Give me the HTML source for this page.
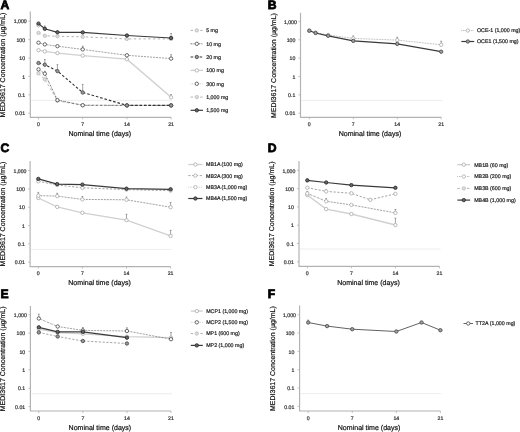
<!DOCTYPE html>
<html><head><meta charset="utf-8"><style>
html,body{margin:0;padding:0;background:#fff;}
svg{display:block;font-family:"Liberation Sans", sans-serif;filter:blur(0.4px);text-rendering:geometricPrecision;}
</style></head><body>
<svg width="520" height="432" viewBox="0 0 520 432">
<rect width="520" height="432" fill="#fff"/>
<text x="0.5" y="8.7" font-size="12.2" fill="#000" text-anchor="start" font-weight="bold" stroke="#000" stroke-width="0.75">A</text>
<line x1="31.3" y1="100.34" x2="172.1" y2="100.34" stroke="#e9e9e9" stroke-width="0.8"/>
<path d="M30.3,11.6V117.4H171.1" fill="none" stroke="#b2b2b2" stroke-width="1.15"/>
<line x1="28.3" y1="21.2" x2="30.3" y2="21.2" stroke="#b2b2b2" stroke-width="0.8"/>
<text x="26.7" y="23.4" font-size="5.2" fill="#333" text-anchor="end" font-weight="normal" stroke="#333" stroke-width="0.2">1,000</text>
<line x1="28.3" y1="39.6" x2="30.3" y2="39.6" stroke="#b2b2b2" stroke-width="0.8"/>
<text x="25.1" y="41.8" font-size="5.2" fill="#333" text-anchor="end" font-weight="normal" stroke="#333" stroke-width="0.2">100</text>
<line x1="28.3" y1="58" x2="30.3" y2="58" stroke="#b2b2b2" stroke-width="0.8"/>
<text x="25.1" y="60.2" font-size="5.2" fill="#333" text-anchor="end" font-weight="normal" stroke="#333" stroke-width="0.2">10</text>
<line x1="28.3" y1="76.4" x2="30.3" y2="76.4" stroke="#b2b2b2" stroke-width="0.8"/>
<text x="25.1" y="78.6" font-size="5.2" fill="#333" text-anchor="end" font-weight="normal" stroke="#333" stroke-width="0.2">1</text>
<line x1="28.3" y1="94.8" x2="30.3" y2="94.8" stroke="#b2b2b2" stroke-width="0.8"/>
<text x="25.1" y="97" font-size="5.2" fill="#333" text-anchor="end" font-weight="normal" stroke="#333" stroke-width="0.2">0.1</text>
<line x1="28.3" y1="113.2" x2="30.3" y2="113.2" stroke="#b2b2b2" stroke-width="0.8"/>
<text x="25.1" y="115.4" font-size="5.2" fill="#333" text-anchor="end" font-weight="normal" stroke="#333" stroke-width="0.2">0.01</text>
<line x1="38.5" y1="117.4" x2="38.5" y2="119.4" stroke="#b2b2b2" stroke-width="0.8"/>
<text x="38.5" y="126.2" font-size="5.2" fill="#333" text-anchor="middle" font-weight="normal" stroke="#333" stroke-width="0.2">0</text>
<line x1="82.7" y1="117.4" x2="82.7" y2="119.4" stroke="#b2b2b2" stroke-width="0.8"/>
<text x="82.7" y="126.2" font-size="5.2" fill="#333" text-anchor="middle" font-weight="normal" stroke="#333" stroke-width="0.2">7</text>
<line x1="126.9" y1="117.4" x2="126.9" y2="119.4" stroke="#b2b2b2" stroke-width="0.8"/>
<text x="126.9" y="126.2" font-size="5.2" fill="#333" text-anchor="middle" font-weight="normal" stroke="#333" stroke-width="0.2">14</text>
<line x1="171.1" y1="117.4" x2="171.1" y2="119.4" stroke="#b2b2b2" stroke-width="0.8"/>
<text x="171.1" y="126.2" font-size="5.2" fill="#333" text-anchor="middle" font-weight="normal" stroke="#333" stroke-width="0.2">21</text>
<text x="99.8" y="136" font-size="7.05" fill="#111" text-anchor="middle" font-weight="normal" stroke="#111" stroke-width="0.2">Nominal time (days)</text>
<text x="0" y="0" font-size="7.0" fill="#111" stroke="#111" stroke-width="0.2" text-anchor="middle" transform="translate(5.1,65) rotate(-90)">MEDI3617 Concentration (µg/mL)</text>
<text x="267.8" y="8.7" font-size="12.2" fill="#000" text-anchor="start" font-weight="bold" stroke="#000" stroke-width="0.75">B</text>
<line x1="301.5" y1="100.37" x2="442.2" y2="100.37" stroke="#e9e9e9" stroke-width="0.8"/>
<path d="M300.5,12.7V117.3H441.2" fill="none" stroke="#b2b2b2" stroke-width="1.15"/>
<line x1="298.5" y1="21.4" x2="300.5" y2="21.4" stroke="#b2b2b2" stroke-width="0.8"/>
<text x="296.9" y="23.6" font-size="5.2" fill="#333" text-anchor="end" font-weight="normal" stroke="#333" stroke-width="0.2">1,000</text>
<line x1="298.5" y1="39.76" x2="300.5" y2="39.76" stroke="#b2b2b2" stroke-width="0.8"/>
<text x="295.3" y="41.96" font-size="5.2" fill="#333" text-anchor="end" font-weight="normal" stroke="#333" stroke-width="0.2">100</text>
<line x1="298.5" y1="58.12" x2="300.5" y2="58.12" stroke="#b2b2b2" stroke-width="0.8"/>
<text x="295.3" y="60.32" font-size="5.2" fill="#333" text-anchor="end" font-weight="normal" stroke="#333" stroke-width="0.2">10</text>
<line x1="298.5" y1="76.48" x2="300.5" y2="76.48" stroke="#b2b2b2" stroke-width="0.8"/>
<text x="295.3" y="78.68" font-size="5.2" fill="#333" text-anchor="end" font-weight="normal" stroke="#333" stroke-width="0.2">1</text>
<line x1="298.5" y1="94.84" x2="300.5" y2="94.84" stroke="#b2b2b2" stroke-width="0.8"/>
<text x="295.3" y="97.04" font-size="5.2" fill="#333" text-anchor="end" font-weight="normal" stroke="#333" stroke-width="0.2">0.1</text>
<line x1="298.5" y1="113.2" x2="300.5" y2="113.2" stroke="#b2b2b2" stroke-width="0.8"/>
<text x="295.3" y="115.4" font-size="5.2" fill="#333" text-anchor="end" font-weight="normal" stroke="#333" stroke-width="0.2">0.01</text>
<line x1="309.3" y1="117.3" x2="309.3" y2="119.3" stroke="#b2b2b2" stroke-width="0.8"/>
<text x="309.3" y="126.1" font-size="5.2" fill="#333" text-anchor="middle" font-weight="normal" stroke="#333" stroke-width="0.2">0</text>
<line x1="353.27" y1="117.3" x2="353.27" y2="119.3" stroke="#b2b2b2" stroke-width="0.8"/>
<text x="353.27" y="126.1" font-size="5.2" fill="#333" text-anchor="middle" font-weight="normal" stroke="#333" stroke-width="0.2">7</text>
<line x1="397.23" y1="117.3" x2="397.23" y2="119.3" stroke="#b2b2b2" stroke-width="0.8"/>
<text x="397.23" y="126.1" font-size="5.2" fill="#333" text-anchor="middle" font-weight="normal" stroke="#333" stroke-width="0.2">14</text>
<line x1="441.2" y1="117.3" x2="441.2" y2="119.3" stroke="#b2b2b2" stroke-width="0.8"/>
<text x="441.2" y="126.1" font-size="5.2" fill="#333" text-anchor="middle" font-weight="normal" stroke="#333" stroke-width="0.2">21</text>
<text x="370" y="135.9" font-size="7.05" fill="#111" text-anchor="middle" font-weight="normal" stroke="#111" stroke-width="0.2">Nominal time (days)</text>
<text x="0" y="0" font-size="7.0" fill="#111" stroke="#111" stroke-width="0.2" text-anchor="middle" transform="translate(275.8,65.5) rotate(-90)">MEDI3617 Concentration (µg/mL)</text>
<text x="0.5" y="152.1" font-size="12.2" fill="#000" text-anchor="start" font-weight="bold" stroke="#000" stroke-width="0.75">C</text>
<line x1="31.1" y1="249.39" x2="171.6" y2="249.39" stroke="#e9e9e9" stroke-width="0.8"/>
<path d="M30.1,161V266.6H170.6" fill="none" stroke="#b2b2b2" stroke-width="1.15"/>
<line x1="28.1" y1="170.6" x2="30.1" y2="170.6" stroke="#b2b2b2" stroke-width="0.8"/>
<text x="26.5" y="172.8" font-size="5.2" fill="#333" text-anchor="end" font-weight="normal" stroke="#333" stroke-width="0.2">1,000</text>
<line x1="28.1" y1="188.92" x2="30.1" y2="188.92" stroke="#b2b2b2" stroke-width="0.8"/>
<text x="24.9" y="191.12" font-size="5.2" fill="#333" text-anchor="end" font-weight="normal" stroke="#333" stroke-width="0.2">100</text>
<line x1="28.1" y1="207.24" x2="30.1" y2="207.24" stroke="#b2b2b2" stroke-width="0.8"/>
<text x="24.9" y="209.44" font-size="5.2" fill="#333" text-anchor="end" font-weight="normal" stroke="#333" stroke-width="0.2">10</text>
<line x1="28.1" y1="225.56" x2="30.1" y2="225.56" stroke="#b2b2b2" stroke-width="0.8"/>
<text x="24.9" y="227.76" font-size="5.2" fill="#333" text-anchor="end" font-weight="normal" stroke="#333" stroke-width="0.2">1</text>
<line x1="28.1" y1="243.88" x2="30.1" y2="243.88" stroke="#b2b2b2" stroke-width="0.8"/>
<text x="24.9" y="246.08" font-size="5.2" fill="#333" text-anchor="end" font-weight="normal" stroke="#333" stroke-width="0.2">0.1</text>
<line x1="28.1" y1="262.2" x2="30.1" y2="262.2" stroke="#b2b2b2" stroke-width="0.8"/>
<text x="24.9" y="264.4" font-size="5.2" fill="#333" text-anchor="end" font-weight="normal" stroke="#333" stroke-width="0.2">0.01</text>
<line x1="38.3" y1="266.6" x2="38.3" y2="268.6" stroke="#b2b2b2" stroke-width="0.8"/>
<text x="38.3" y="275.4" font-size="5.2" fill="#333" text-anchor="middle" font-weight="normal" stroke="#333" stroke-width="0.2">0</text>
<line x1="82.4" y1="266.6" x2="82.4" y2="268.6" stroke="#b2b2b2" stroke-width="0.8"/>
<text x="82.4" y="275.4" font-size="5.2" fill="#333" text-anchor="middle" font-weight="normal" stroke="#333" stroke-width="0.2">7</text>
<line x1="126.5" y1="266.6" x2="126.5" y2="268.6" stroke="#b2b2b2" stroke-width="0.8"/>
<text x="126.5" y="275.4" font-size="5.2" fill="#333" text-anchor="middle" font-weight="normal" stroke="#333" stroke-width="0.2">14</text>
<line x1="170.6" y1="266.6" x2="170.6" y2="268.6" stroke="#b2b2b2" stroke-width="0.8"/>
<text x="170.6" y="275.4" font-size="5.2" fill="#333" text-anchor="middle" font-weight="normal" stroke="#333" stroke-width="0.2">21</text>
<text x="99.6" y="285.2" font-size="7.05" fill="#111" text-anchor="middle" font-weight="normal" stroke="#111" stroke-width="0.2">Nominal time (days)</text>
<text x="0" y="0" font-size="7.0" fill="#111" stroke="#111" stroke-width="0.2" text-anchor="middle" transform="translate(5,214) rotate(-90)">MEDI3617 Concentration (µg/mL)</text>
<text x="267.8" y="152.4" font-size="12.2" fill="#000" text-anchor="start" font-weight="bold" stroke="#000" stroke-width="0.75">D</text>
<line x1="300" y1="249.01" x2="440.5" y2="249.01" stroke="#e9e9e9" stroke-width="0.8"/>
<path d="M299,161V266.4H439.5" fill="none" stroke="#b2b2b2" stroke-width="1.15"/>
<line x1="297" y1="170.3" x2="299" y2="170.3" stroke="#b2b2b2" stroke-width="0.8"/>
<text x="295.4" y="172.5" font-size="5.2" fill="#333" text-anchor="end" font-weight="normal" stroke="#333" stroke-width="0.2">1,000</text>
<line x1="297" y1="188.6" x2="299" y2="188.6" stroke="#b2b2b2" stroke-width="0.8"/>
<text x="293.8" y="190.8" font-size="5.2" fill="#333" text-anchor="end" font-weight="normal" stroke="#333" stroke-width="0.2">100</text>
<line x1="297" y1="206.9" x2="299" y2="206.9" stroke="#b2b2b2" stroke-width="0.8"/>
<text x="293.8" y="209.1" font-size="5.2" fill="#333" text-anchor="end" font-weight="normal" stroke="#333" stroke-width="0.2">10</text>
<line x1="297" y1="225.2" x2="299" y2="225.2" stroke="#b2b2b2" stroke-width="0.8"/>
<text x="293.8" y="227.4" font-size="5.2" fill="#333" text-anchor="end" font-weight="normal" stroke="#333" stroke-width="0.2">1</text>
<line x1="297" y1="243.5" x2="299" y2="243.5" stroke="#b2b2b2" stroke-width="0.8"/>
<text x="293.8" y="245.7" font-size="5.2" fill="#333" text-anchor="end" font-weight="normal" stroke="#333" stroke-width="0.2">0.1</text>
<line x1="297" y1="261.8" x2="299" y2="261.8" stroke="#b2b2b2" stroke-width="0.8"/>
<text x="293.8" y="264" font-size="5.2" fill="#333" text-anchor="end" font-weight="normal" stroke="#333" stroke-width="0.2">0.01</text>
<line x1="307.3" y1="266.4" x2="307.3" y2="268.4" stroke="#b2b2b2" stroke-width="0.8"/>
<text x="307.3" y="275.2" font-size="5.2" fill="#333" text-anchor="middle" font-weight="normal" stroke="#333" stroke-width="0.2">0</text>
<line x1="351.37" y1="266.4" x2="351.37" y2="268.4" stroke="#b2b2b2" stroke-width="0.8"/>
<text x="351.37" y="275.2" font-size="5.2" fill="#333" text-anchor="middle" font-weight="normal" stroke="#333" stroke-width="0.2">7</text>
<line x1="395.43" y1="266.4" x2="395.43" y2="268.4" stroke="#b2b2b2" stroke-width="0.8"/>
<text x="395.43" y="275.2" font-size="5.2" fill="#333" text-anchor="middle" font-weight="normal" stroke="#333" stroke-width="0.2">14</text>
<line x1="439.5" y1="266.4" x2="439.5" y2="268.4" stroke="#b2b2b2" stroke-width="0.8"/>
<text x="439.5" y="275.2" font-size="5.2" fill="#333" text-anchor="middle" font-weight="normal" stroke="#333" stroke-width="0.2">21</text>
<text x="368.5" y="285" font-size="7.05" fill="#111" text-anchor="middle" font-weight="normal" stroke="#111" stroke-width="0.2">Nominal time (days)</text>
<text x="0" y="0" font-size="7.0" fill="#111" stroke="#111" stroke-width="0.2" text-anchor="middle" transform="translate(274,213.9) rotate(-90)">MEDI3617 Concentration (µg/mL)</text>
<text x="0.5" y="298.3" font-size="12.2" fill="#000" text-anchor="start" font-weight="bold" stroke="#000" stroke-width="0.75">E</text>
<line x1="31.4" y1="393.75" x2="172" y2="393.75" stroke="#e9e9e9" stroke-width="0.8"/>
<path d="M30.4,306V411H171" fill="none" stroke="#b2b2b2" stroke-width="1.15"/>
<line x1="28.4" y1="314.7" x2="30.4" y2="314.7" stroke="#b2b2b2" stroke-width="0.8"/>
<text x="26.8" y="316.9" font-size="5.2" fill="#333" text-anchor="end" font-weight="normal" stroke="#333" stroke-width="0.2">1,000</text>
<line x1="28.4" y1="333.08" x2="30.4" y2="333.08" stroke="#b2b2b2" stroke-width="0.8"/>
<text x="25.2" y="335.28" font-size="5.2" fill="#333" text-anchor="end" font-weight="normal" stroke="#333" stroke-width="0.2">100</text>
<line x1="28.4" y1="351.46" x2="30.4" y2="351.46" stroke="#b2b2b2" stroke-width="0.8"/>
<text x="25.2" y="353.66" font-size="5.2" fill="#333" text-anchor="end" font-weight="normal" stroke="#333" stroke-width="0.2">10</text>
<line x1="28.4" y1="369.84" x2="30.4" y2="369.84" stroke="#b2b2b2" stroke-width="0.8"/>
<text x="25.2" y="372.04" font-size="5.2" fill="#333" text-anchor="end" font-weight="normal" stroke="#333" stroke-width="0.2">1</text>
<line x1="28.4" y1="388.22" x2="30.4" y2="388.22" stroke="#b2b2b2" stroke-width="0.8"/>
<text x="25.2" y="390.42" font-size="5.2" fill="#333" text-anchor="end" font-weight="normal" stroke="#333" stroke-width="0.2">0.1</text>
<line x1="28.4" y1="406.6" x2="30.4" y2="406.6" stroke="#b2b2b2" stroke-width="0.8"/>
<text x="25.2" y="408.8" font-size="5.2" fill="#333" text-anchor="end" font-weight="normal" stroke="#333" stroke-width="0.2">0.01</text>
<line x1="38.8" y1="411" x2="38.8" y2="413" stroke="#b2b2b2" stroke-width="0.8"/>
<text x="38.8" y="419.8" font-size="5.2" fill="#333" text-anchor="middle" font-weight="normal" stroke="#333" stroke-width="0.2">0</text>
<line x1="82.87" y1="411" x2="82.87" y2="413" stroke="#b2b2b2" stroke-width="0.8"/>
<text x="82.87" y="419.8" font-size="5.2" fill="#333" text-anchor="middle" font-weight="normal" stroke="#333" stroke-width="0.2">7</text>
<line x1="126.93" y1="411" x2="126.93" y2="413" stroke="#b2b2b2" stroke-width="0.8"/>
<text x="126.93" y="419.8" font-size="5.2" fill="#333" text-anchor="middle" font-weight="normal" stroke="#333" stroke-width="0.2">14</text>
<line x1="171" y1="411" x2="171" y2="413" stroke="#b2b2b2" stroke-width="0.8"/>
<text x="171" y="419.8" font-size="5.2" fill="#333" text-anchor="middle" font-weight="normal" stroke="#333" stroke-width="0.2">21</text>
<text x="99.9" y="429.6" font-size="7.05" fill="#111" text-anchor="middle" font-weight="normal" stroke="#111" stroke-width="0.2">Nominal time (days)</text>
<text x="0" y="0" font-size="7.0" fill="#111" stroke="#111" stroke-width="0.2" text-anchor="middle" transform="translate(5.1,358.8) rotate(-90)">MEDI3617 Concentration (µg/mL)</text>
<text x="267.8" y="298.3" font-size="12.2" fill="#000" text-anchor="start" font-weight="bold" stroke="#000" stroke-width="0.75">F</text>
<line x1="300.6" y1="393.58" x2="441.4" y2="393.58" stroke="#e9e9e9" stroke-width="0.8"/>
<path d="M299.6,305.5V411H440.4" fill="none" stroke="#b2b2b2" stroke-width="1.15"/>
<line x1="297.6" y1="314.7" x2="299.6" y2="314.7" stroke="#b2b2b2" stroke-width="0.8"/>
<text x="296" y="316.9" font-size="5.2" fill="#333" text-anchor="end" font-weight="normal" stroke="#333" stroke-width="0.2">1,000</text>
<line x1="297.6" y1="333.04" x2="299.6" y2="333.04" stroke="#b2b2b2" stroke-width="0.8"/>
<text x="294.4" y="335.24" font-size="5.2" fill="#333" text-anchor="end" font-weight="normal" stroke="#333" stroke-width="0.2">100</text>
<line x1="297.6" y1="351.38" x2="299.6" y2="351.38" stroke="#b2b2b2" stroke-width="0.8"/>
<text x="294.4" y="353.58" font-size="5.2" fill="#333" text-anchor="end" font-weight="normal" stroke="#333" stroke-width="0.2">10</text>
<line x1="297.6" y1="369.72" x2="299.6" y2="369.72" stroke="#b2b2b2" stroke-width="0.8"/>
<text x="294.4" y="371.92" font-size="5.2" fill="#333" text-anchor="end" font-weight="normal" stroke="#333" stroke-width="0.2">1</text>
<line x1="297.6" y1="388.06" x2="299.6" y2="388.06" stroke="#b2b2b2" stroke-width="0.8"/>
<text x="294.4" y="390.26" font-size="5.2" fill="#333" text-anchor="end" font-weight="normal" stroke="#333" stroke-width="0.2">0.1</text>
<line x1="297.6" y1="406.4" x2="299.6" y2="406.4" stroke="#b2b2b2" stroke-width="0.8"/>
<text x="294.4" y="408.6" font-size="5.2" fill="#333" text-anchor="end" font-weight="normal" stroke="#333" stroke-width="0.2">0.01</text>
<line x1="308.2" y1="411" x2="308.2" y2="413" stroke="#b2b2b2" stroke-width="0.8"/>
<text x="308.2" y="419.8" font-size="5.2" fill="#333" text-anchor="middle" font-weight="normal" stroke="#333" stroke-width="0.2">0</text>
<line x1="352.27" y1="411" x2="352.27" y2="413" stroke="#b2b2b2" stroke-width="0.8"/>
<text x="352.27" y="419.8" font-size="5.2" fill="#333" text-anchor="middle" font-weight="normal" stroke="#333" stroke-width="0.2">7</text>
<line x1="396.33" y1="411" x2="396.33" y2="413" stroke="#b2b2b2" stroke-width="0.8"/>
<text x="396.33" y="419.8" font-size="5.2" fill="#333" text-anchor="middle" font-weight="normal" stroke="#333" stroke-width="0.2">14</text>
<line x1="440.4" y1="411" x2="440.4" y2="413" stroke="#b2b2b2" stroke-width="0.8"/>
<text x="440.4" y="419.8" font-size="5.2" fill="#333" text-anchor="middle" font-weight="normal" stroke="#333" stroke-width="0.2">21</text>
<text x="369.1" y="429.6" font-size="7.05" fill="#111" text-anchor="middle" font-weight="normal" stroke="#111" stroke-width="0.2">Nominal time (days)</text>
<text x="0" y="0" font-size="7.0" fill="#111" stroke="#111" stroke-width="0.2" text-anchor="middle" transform="translate(275.1,358.55) rotate(-90)">MEDI3617 Concentration (µg/mL)</text>
<polyline points="38.5,50.2 44.81,51.4 57.44,53.1 82.7,55.6 126.9,59.2 171.1,97.3" fill="none" stroke="#d0d0d0" stroke-width="1.35"/>
<line x1="171.1" y1="94.5" x2="171.1" y2="97.3" stroke="#666" stroke-width="0.6"/>
<line x1="170.2" y1="94.5" x2="172" y2="94.5" stroke="#666" stroke-width="0.6"/>
<circle cx="38.5" cy="50.2" r="1.7" fill="#fff" stroke="#aaa" stroke-width="0.8"/>
<circle cx="44.81" cy="51.4" r="1.7" fill="#fff" stroke="#aaa" stroke-width="0.8"/>
<circle cx="57.44" cy="53.1" r="1.7" fill="#fff" stroke="#aaa" stroke-width="0.8"/>
<circle cx="82.7" cy="55.6" r="1.7" fill="#fff" stroke="#aaa" stroke-width="0.8"/>
<circle cx="126.9" cy="59.2" r="1.7" fill="#fff" stroke="#aaa" stroke-width="0.8"/>
<circle cx="171.1" cy="97.3" r="1.7" fill="#fff" stroke="#aaa" stroke-width="0.8"/>
<polyline points="38.5,32.9 44.81,35.8 57.44,36.3 82.7,36.8 126.9,38.9 171.1,38.9" fill="none" stroke="#aaa" stroke-width="0.9" stroke-dasharray="2.4,2.4"/>
<circle cx="38.5" cy="32.9" r="1.7" fill="#ddd" stroke="#bbb" stroke-width="0.8"/>
<circle cx="44.81" cy="35.8" r="1.7" fill="#ddd" stroke="#bbb" stroke-width="0.8"/>
<circle cx="57.44" cy="36.3" r="1.7" fill="#ddd" stroke="#bbb" stroke-width="0.8"/>
<circle cx="82.7" cy="36.8" r="1.7" fill="#ddd" stroke="#bbb" stroke-width="0.8"/>
<circle cx="126.9" cy="38.9" r="1.7" fill="#ddd" stroke="#bbb" stroke-width="0.8"/>
<circle cx="171.1" cy="38.9" r="1.7" fill="#ddd" stroke="#bbb" stroke-width="0.8"/>
<polyline points="38.5,42.7 44.81,44.4 57.44,46.2 82.7,49.4 126.9,55.3 171.1,58.6" fill="none" stroke="#444" stroke-width="0.9" stroke-dasharray="0.55,0.95"/>
<line x1="82.7" y1="46.2" x2="82.7" y2="49.4" stroke="#666" stroke-width="0.6"/>
<line x1="81.8" y1="46.2" x2="83.6" y2="46.2" stroke="#666" stroke-width="0.6"/>
<line x1="171.1" y1="54.7" x2="171.1" y2="58.6" stroke="#666" stroke-width="0.6"/>
<line x1="170.2" y1="54.7" x2="172" y2="54.7" stroke="#666" stroke-width="0.6"/>
<circle cx="38.5" cy="42.7" r="1.7" fill="#fff" stroke="#444" stroke-width="0.8"/>
<circle cx="44.81" cy="44.4" r="1.7" fill="#fff" stroke="#444" stroke-width="0.8"/>
<circle cx="57.44" cy="46.2" r="1.7" fill="#fff" stroke="#444" stroke-width="0.8"/>
<circle cx="82.7" cy="49.4" r="1.7" fill="#fff" stroke="#444" stroke-width="0.8"/>
<circle cx="126.9" cy="55.3" r="1.7" fill="#fff" stroke="#444" stroke-width="0.8"/>
<circle cx="171.1" cy="58.6" r="1.7" fill="#fff" stroke="#444" stroke-width="0.8"/>
<polyline points="38.5,73.4 44.81,79.3 57.44,100.8 82.7,105.4 126.9,105.4 171.1,105.4" fill="none" stroke="#aaa" stroke-width="0.9" stroke-dasharray="2.4,2.4"/>
<circle cx="38.5" cy="73.4" r="1.7" fill="#ddd" stroke="#bbb" stroke-width="0.8"/>
<circle cx="44.81" cy="79.3" r="1.7" fill="#ddd" stroke="#bbb" stroke-width="0.8"/>
<circle cx="57.44" cy="100.8" r="1.7" fill="#ddd" stroke="#bbb" stroke-width="0.8"/>
<circle cx="82.7" cy="105.4" r="1.7" fill="#ddd" stroke="#bbb" stroke-width="0.8"/>
<circle cx="126.9" cy="105.4" r="1.7" fill="#ddd" stroke="#bbb" stroke-width="0.8"/>
<circle cx="171.1" cy="105.4" r="1.7" fill="#ddd" stroke="#bbb" stroke-width="0.8"/>
<polyline points="38.5,69.4 44.81,73.7 57.44,100.1 82.7,105.2 126.9,105.4 171.1,105.4" fill="none" stroke="#555" stroke-width="0.8" stroke-dasharray="1.8,0.8,0.6,0.8"/>
<line x1="44.81" y1="71.3" x2="44.81" y2="73.7" stroke="#666" stroke-width="0.6"/>
<line x1="43.91" y1="71.3" x2="45.71" y2="71.3" stroke="#666" stroke-width="0.6"/>
<circle cx="38.5" cy="69.4" r="1.7" fill="#fff" stroke="#444" stroke-width="0.8"/>
<circle cx="44.81" cy="73.7" r="1.7" fill="#fff" stroke="#444" stroke-width="0.8"/>
<circle cx="57.44" cy="100.1" r="1.7" fill="#fff" stroke="#444" stroke-width="0.8"/>
<circle cx="82.7" cy="105.2" r="1.7" fill="#fff" stroke="#444" stroke-width="0.8"/>
<circle cx="126.9" cy="105.4" r="1.7" fill="#fff" stroke="#444" stroke-width="0.8"/>
<circle cx="171.1" cy="105.4" r="1.7" fill="#fff" stroke="#444" stroke-width="0.8"/>
<polyline points="38.5,63 44.81,64.7 57.44,71.1 82.7,92.5 126.9,105.4 171.1,105.4" fill="none" stroke="#333" stroke-width="1.1" stroke-dasharray="2.6,1.9"/>
<line x1="44.81" y1="59.5" x2="44.81" y2="64.7" stroke="#666" stroke-width="0.6"/>
<line x1="43.91" y1="59.5" x2="45.71" y2="59.5" stroke="#666" stroke-width="0.6"/>
<line x1="57.44" y1="64.7" x2="57.44" y2="71.1" stroke="#666" stroke-width="0.6"/>
<line x1="56.54" y1="64.7" x2="58.34" y2="64.7" stroke="#666" stroke-width="0.6"/>
<line x1="82.7" y1="84.4" x2="82.7" y2="92.5" stroke="#666" stroke-width="0.6"/>
<line x1="81.8" y1="84.4" x2="83.6" y2="84.4" stroke="#666" stroke-width="0.6"/>
<circle cx="38.5" cy="63" r="1.7" fill="#999" stroke="#444" stroke-width="0.8"/>
<circle cx="44.81" cy="64.7" r="1.7" fill="#999" stroke="#444" stroke-width="0.8"/>
<circle cx="57.44" cy="71.1" r="1.7" fill="#999" stroke="#444" stroke-width="0.8"/>
<circle cx="82.7" cy="92.5" r="1.7" fill="#999" stroke="#444" stroke-width="0.8"/>
<circle cx="126.9" cy="105.4" r="1.7" fill="#999" stroke="#444" stroke-width="0.8"/>
<circle cx="171.1" cy="105.4" r="1.7" fill="#999" stroke="#444" stroke-width="0.8"/>
<polyline points="38.5,25.4" fill="none" stroke="#aaa" stroke-width="0.9" stroke-dasharray="2.4,2.4"/>
<circle cx="38.5" cy="25.4" r="1.7" fill="#fff" stroke="#aaa" stroke-width="0.8"/>
<polyline points="38.5,23.6 44.81,28.8 57.44,32.3 82.7,32.4 126.9,35.5 171.1,38" fill="none" stroke="#3a3a3a" stroke-width="1.2"/>
<line x1="44.81" y1="26" x2="44.81" y2="28.8" stroke="#666" stroke-width="0.6"/>
<line x1="43.91" y1="26" x2="45.71" y2="26" stroke="#666" stroke-width="0.6"/>
<line x1="171.1" y1="33.5" x2="171.1" y2="38" stroke="#666" stroke-width="0.6"/>
<line x1="170.2" y1="33.5" x2="172" y2="33.5" stroke="#666" stroke-width="0.6"/>
<circle cx="38.5" cy="23.6" r="1.7" fill="#666" stroke="#222" stroke-width="0.8"/>
<circle cx="44.81" cy="28.8" r="1.7" fill="#666" stroke="#222" stroke-width="0.8"/>
<circle cx="57.44" cy="32.3" r="1.7" fill="#666" stroke="#222" stroke-width="0.8"/>
<circle cx="82.7" cy="32.4" r="1.7" fill="#666" stroke="#222" stroke-width="0.8"/>
<circle cx="126.9" cy="35.5" r="1.7" fill="#666" stroke="#222" stroke-width="0.8"/>
<circle cx="171.1" cy="38" r="1.7" fill="#666" stroke="#222" stroke-width="0.8"/>
<polyline points="309.3,30.7 315.58,32.6 328.14,35 353.27,38.4 397.23,40.1 441.2,44.8" fill="none" stroke="#999" stroke-width="0.9" stroke-dasharray="0.7,0.9"/>
<line x1="353.27" y1="35.9" x2="353.27" y2="38.4" stroke="#666" stroke-width="0.6"/>
<line x1="352.37" y1="35.9" x2="354.17" y2="35.9" stroke="#666" stroke-width="0.6"/>
<line x1="397.23" y1="37.3" x2="397.23" y2="40.1" stroke="#666" stroke-width="0.6"/>
<line x1="396.33" y1="37.3" x2="398.13" y2="37.3" stroke="#666" stroke-width="0.6"/>
<line x1="441.2" y1="41.2" x2="441.2" y2="44.8" stroke="#666" stroke-width="0.6"/>
<line x1="440.3" y1="41.2" x2="442.1" y2="41.2" stroke="#666" stroke-width="0.6"/>
<circle cx="309.3" cy="30.7" r="1.7" fill="#fff" stroke="#aaa" stroke-width="0.8"/>
<circle cx="315.58" cy="32.6" r="1.7" fill="#fff" stroke="#aaa" stroke-width="0.8"/>
<circle cx="328.14" cy="35" r="1.7" fill="#fff" stroke="#aaa" stroke-width="0.8"/>
<circle cx="353.27" cy="38.4" r="1.7" fill="#fff" stroke="#aaa" stroke-width="0.8"/>
<circle cx="397.23" cy="40.1" r="1.7" fill="#fff" stroke="#aaa" stroke-width="0.8"/>
<circle cx="441.2" cy="44.8" r="1.7" fill="#fff" stroke="#aaa" stroke-width="0.8"/>
<polyline points="309.3,30.7 315.58,33 328.14,35.8 353.27,40.9 397.23,43.9 441.2,51.7" fill="none" stroke="#3a3a3a" stroke-width="1.2"/>
<circle cx="309.3" cy="30.7" r="1.7" fill="#a0a0a0" stroke="#444" stroke-width="0.8"/>
<circle cx="315.58" cy="33" r="1.7" fill="#a0a0a0" stroke="#444" stroke-width="0.8"/>
<circle cx="328.14" cy="35.8" r="1.7" fill="#a0a0a0" stroke="#444" stroke-width="0.8"/>
<circle cx="353.27" cy="40.9" r="1.7" fill="#a0a0a0" stroke="#444" stroke-width="0.8"/>
<circle cx="397.23" cy="43.9" r="1.7" fill="#a0a0a0" stroke="#444" stroke-width="0.8"/>
<circle cx="441.2" cy="51.7" r="1.7" fill="#a0a0a0" stroke="#444" stroke-width="0.8"/>
<polyline points="38.3,198 57.2,206.9 82.4,212.8 126.5,220.2 170.6,235.9" fill="none" stroke="#d0d0d0" stroke-width="1.35"/>
<line x1="126.5" y1="214.3" x2="126.5" y2="220.2" stroke="#666" stroke-width="0.6"/>
<line x1="125.6" y1="214.3" x2="127.4" y2="214.3" stroke="#666" stroke-width="0.6"/>
<line x1="170.6" y1="230.4" x2="170.6" y2="235.9" stroke="#666" stroke-width="0.6"/>
<line x1="169.7" y1="230.4" x2="171.5" y2="230.4" stroke="#666" stroke-width="0.6"/>
<circle cx="38.3" cy="198" r="1.7" fill="#fff" stroke="#aaa" stroke-width="0.8"/>
<circle cx="57.2" cy="206.9" r="1.7" fill="#fff" stroke="#aaa" stroke-width="0.8"/>
<circle cx="82.4" cy="212.8" r="1.7" fill="#fff" stroke="#aaa" stroke-width="0.8"/>
<circle cx="126.5" cy="220.2" r="1.7" fill="#fff" stroke="#aaa" stroke-width="0.8"/>
<circle cx="170.6" cy="235.9" r="1.7" fill="#fff" stroke="#aaa" stroke-width="0.8"/>
<polyline points="38.3,181.3 57.2,185 82.4,187.8 126.5,189.6 170.6,190.6" fill="none" stroke="#9a9a9a" stroke-width="0.9" stroke-dasharray="2.2,1.6"/>
<circle cx="38.3" cy="181.3" r="1.7" fill="#fff" stroke="#aaa" stroke-width="0.8"/>
<circle cx="57.2" cy="185" r="1.7" fill="#fff" stroke="#aaa" stroke-width="0.8"/>
<circle cx="82.4" cy="187.8" r="1.7" fill="#fff" stroke="#aaa" stroke-width="0.8"/>
<circle cx="126.5" cy="189.6" r="1.7" fill="#fff" stroke="#aaa" stroke-width="0.8"/>
<circle cx="170.6" cy="190.6" r="1.7" fill="#fff" stroke="#aaa" stroke-width="0.8"/>
<polyline points="38.3,195.6 57.2,196.1 82.4,199.4 126.5,199.8 170.6,207.2" fill="none" stroke="#444" stroke-width="0.9" stroke-dasharray="0.55,0.95"/>
<line x1="38.3" y1="192.4" x2="38.3" y2="195.6" stroke="#666" stroke-width="0.6"/>
<line x1="37.4" y1="192.4" x2="39.2" y2="192.4" stroke="#666" stroke-width="0.6"/>
<line x1="57.2" y1="193.3" x2="57.2" y2="196.1" stroke="#666" stroke-width="0.6"/>
<line x1="56.3" y1="193.3" x2="58.1" y2="193.3" stroke="#666" stroke-width="0.6"/>
<line x1="82.4" y1="196.5" x2="82.4" y2="199.4" stroke="#666" stroke-width="0.6"/>
<line x1="81.5" y1="196.5" x2="83.3" y2="196.5" stroke="#666" stroke-width="0.6"/>
<line x1="126.5" y1="197" x2="126.5" y2="199.8" stroke="#666" stroke-width="0.6"/>
<line x1="125.6" y1="197" x2="127.4" y2="197" stroke="#666" stroke-width="0.6"/>
<line x1="170.6" y1="202.6" x2="170.6" y2="207.2" stroke="#666" stroke-width="0.6"/>
<line x1="169.7" y1="202.6" x2="171.5" y2="202.6" stroke="#666" stroke-width="0.6"/>
<circle cx="38.3" cy="195.6" r="1.7" fill="#fff" stroke="#aaa" stroke-width="0.8"/>
<circle cx="57.2" cy="196.1" r="1.7" fill="#fff" stroke="#aaa" stroke-width="0.8"/>
<circle cx="82.4" cy="199.4" r="1.7" fill="#fff" stroke="#aaa" stroke-width="0.8"/>
<circle cx="126.5" cy="199.8" r="1.7" fill="#fff" stroke="#aaa" stroke-width="0.8"/>
<circle cx="170.6" cy="207.2" r="1.7" fill="#fff" stroke="#aaa" stroke-width="0.8"/>
<polyline points="38.3,178.9 57.2,184.1 82.4,184.6 126.5,188.7 170.6,189.3" fill="none" stroke="#3a3a3a" stroke-width="1.2"/>
<circle cx="38.3" cy="178.9" r="1.7" fill="#666" stroke="#222" stroke-width="0.8"/>
<circle cx="57.2" cy="184.1" r="1.7" fill="#666" stroke="#222" stroke-width="0.8"/>
<circle cx="82.4" cy="184.6" r="1.7" fill="#666" stroke="#222" stroke-width="0.8"/>
<circle cx="126.5" cy="188.7" r="1.7" fill="#666" stroke="#222" stroke-width="0.8"/>
<circle cx="170.6" cy="189.3" r="1.7" fill="#666" stroke="#222" stroke-width="0.8"/>
<polyline points="307.3,195 326.19,209.1 351.37,214 395.43,225" fill="none" stroke="#d0d0d0" stroke-width="1.35"/>
<line x1="395.43" y1="218.2" x2="395.43" y2="225" stroke="#666" stroke-width="0.6"/>
<line x1="394.53" y1="218.2" x2="396.33" y2="218.2" stroke="#666" stroke-width="0.6"/>
<circle cx="307.3" cy="195" r="1.7" fill="#fff" stroke="#aaa" stroke-width="0.8"/>
<circle cx="326.19" cy="209.1" r="1.7" fill="#fff" stroke="#aaa" stroke-width="0.8"/>
<circle cx="351.37" cy="214" r="1.7" fill="#fff" stroke="#aaa" stroke-width="0.8"/>
<circle cx="395.43" cy="225" r="1.7" fill="#fff" stroke="#aaa" stroke-width="0.8"/>
<polyline points="307.3,187.7 326.19,191.4 351.37,193.3 370.25,199.8 395.43,193.8" fill="none" stroke="#9a9a9a" stroke-width="0.9" stroke-dasharray="2.2,1.6"/>
<line x1="326.19" y1="189.8" x2="326.19" y2="191.4" stroke="#666" stroke-width="0.6"/>
<line x1="325.29" y1="189.8" x2="327.09" y2="189.8" stroke="#666" stroke-width="0.6"/>
<circle cx="307.3" cy="187.7" r="1.7" fill="#fff" stroke="#aaa" stroke-width="0.8"/>
<circle cx="326.19" cy="191.4" r="1.7" fill="#fff" stroke="#aaa" stroke-width="0.8"/>
<circle cx="351.37" cy="193.3" r="1.7" fill="#fff" stroke="#aaa" stroke-width="0.8"/>
<circle cx="370.25" cy="199.8" r="1.7" fill="#fff" stroke="#aaa" stroke-width="0.8"/>
<circle cx="395.43" cy="193.8" r="1.7" fill="#fff" stroke="#aaa" stroke-width="0.8"/>
<polyline points="307.3,193.4 326.19,201.3 351.37,204.9 395.43,212.9" fill="none" stroke="#444" stroke-width="0.9" stroke-dasharray="0.55,0.95"/>
<line x1="307.3" y1="191.4" x2="307.3" y2="193.4" stroke="#666" stroke-width="0.6"/>
<line x1="306.4" y1="191.4" x2="308.2" y2="191.4" stroke="#666" stroke-width="0.6"/>
<line x1="326.19" y1="198.6" x2="326.19" y2="201.3" stroke="#666" stroke-width="0.6"/>
<line x1="325.29" y1="198.6" x2="327.09" y2="198.6" stroke="#666" stroke-width="0.6"/>
<line x1="395.43" y1="209.5" x2="395.43" y2="212.9" stroke="#666" stroke-width="0.6"/>
<line x1="394.53" y1="209.5" x2="396.33" y2="209.5" stroke="#666" stroke-width="0.6"/>
<circle cx="307.3" cy="193.4" r="1.7" fill="#fff" stroke="#aaa" stroke-width="0.8"/>
<circle cx="326.19" cy="201.3" r="1.7" fill="#fff" stroke="#aaa" stroke-width="0.8"/>
<circle cx="351.37" cy="204.9" r="1.7" fill="#fff" stroke="#aaa" stroke-width="0.8"/>
<circle cx="395.43" cy="212.9" r="1.7" fill="#fff" stroke="#aaa" stroke-width="0.8"/>
<polyline points="307.3,180.4 326.19,182.5 351.37,185.1 395.43,187.8" fill="none" stroke="#3a3a3a" stroke-width="1.2"/>
<line x1="307.3" y1="178.9" x2="307.3" y2="180.4" stroke="#666" stroke-width="0.6"/>
<line x1="306.4" y1="178.9" x2="308.2" y2="178.9" stroke="#666" stroke-width="0.6"/>
<circle cx="307.3" cy="180.4" r="1.7" fill="#666" stroke="#222" stroke-width="0.8"/>
<circle cx="326.19" cy="182.5" r="1.7" fill="#666" stroke="#222" stroke-width="0.8"/>
<circle cx="351.37" cy="185.1" r="1.7" fill="#666" stroke="#222" stroke-width="0.8"/>
<circle cx="395.43" cy="187.8" r="1.7" fill="#666" stroke="#222" stroke-width="0.8"/>
<polyline points="38.8,329 57.69,332.7 82.87,333.8 126.93,336.7 171,337.7" fill="none" stroke="#d0d0d0" stroke-width="1.35"/>
<line x1="171" y1="332.5" x2="171" y2="337.7" stroke="#666" stroke-width="0.6"/>
<line x1="170.1" y1="332.5" x2="171.9" y2="332.5" stroke="#666" stroke-width="0.6"/>
<circle cx="38.8" cy="329" r="1.7" fill="#fff" stroke="#aaa" stroke-width="0.8"/>
<circle cx="57.69" cy="332.7" r="1.7" fill="#fff" stroke="#aaa" stroke-width="0.8"/>
<circle cx="82.87" cy="333.8" r="1.7" fill="#fff" stroke="#aaa" stroke-width="0.8"/>
<circle cx="126.93" cy="336.7" r="1.7" fill="#fff" stroke="#aaa" stroke-width="0.8"/>
<circle cx="171" cy="337.7" r="1.7" fill="#fff" stroke="#aaa" stroke-width="0.8"/>
<polyline points="38.8,332.4 57.69,336.5 82.87,341 126.93,343.5" fill="none" stroke="#9a9a9a" stroke-width="0.9" stroke-dasharray="2.2,1.6"/>
<circle cx="38.8" cy="332.4" r="1.7" fill="#999" stroke="#444" stroke-width="0.8"/>
<circle cx="57.69" cy="336.5" r="1.7" fill="#999" stroke="#444" stroke-width="0.8"/>
<circle cx="82.87" cy="341" r="1.7" fill="#999" stroke="#444" stroke-width="0.8"/>
<circle cx="126.93" cy="343.5" r="1.7" fill="#999" stroke="#444" stroke-width="0.8"/>
<polyline points="38.8,318.5 57.69,326.5 82.87,330.4 126.93,331 171,339.2" fill="none" stroke="#444" stroke-width="0.9" stroke-dasharray="0.55,0.95"/>
<line x1="38.8" y1="314.2" x2="38.8" y2="318.5" stroke="#666" stroke-width="0.6"/>
<line x1="37.9" y1="314.2" x2="39.7" y2="314.2" stroke="#666" stroke-width="0.6"/>
<line x1="82.87" y1="327.5" x2="82.87" y2="330.4" stroke="#666" stroke-width="0.6"/>
<line x1="81.97" y1="327.5" x2="83.77" y2="327.5" stroke="#666" stroke-width="0.6"/>
<line x1="126.93" y1="327.8" x2="126.93" y2="331" stroke="#666" stroke-width="0.6"/>
<line x1="126.03" y1="327.8" x2="127.83" y2="327.8" stroke="#666" stroke-width="0.6"/>
<circle cx="38.8" cy="318.5" r="1.7" fill="#fff" stroke="#444" stroke-width="0.8"/>
<circle cx="57.69" cy="326.5" r="1.7" fill="#fff" stroke="#444" stroke-width="0.8"/>
<circle cx="82.87" cy="330.4" r="1.7" fill="#fff" stroke="#444" stroke-width="0.8"/>
<circle cx="126.93" cy="331" r="1.7" fill="#fff" stroke="#444" stroke-width="0.8"/>
<circle cx="171" cy="339.2" r="1.7" fill="#fff" stroke="#444" stroke-width="0.8"/>
<polyline points="38.8,327.3 57.69,331.9 82.87,331.9 126.93,337.7" fill="none" stroke="#3a3a3a" stroke-width="1.2"/>
<circle cx="38.8" cy="327.3" r="1.7" fill="#666" stroke="#222" stroke-width="0.8"/>
<circle cx="57.69" cy="331.9" r="1.7" fill="#666" stroke="#222" stroke-width="0.8"/>
<circle cx="82.87" cy="331.9" r="1.7" fill="#666" stroke="#222" stroke-width="0.8"/>
<circle cx="126.93" cy="337.7" r="1.7" fill="#666" stroke="#222" stroke-width="0.8"/>
<polyline points="308.2,322.5 327.09,326.1 352.27,329.2 396.33,331.5 421.51,322.5 440.4,330.2" fill="none" stroke="#505050" stroke-width="0.9"/>
<line x1="308.2" y1="320.1" x2="308.2" y2="322.5" stroke="#666" stroke-width="0.6"/>
<line x1="307.3" y1="320.1" x2="309.1" y2="320.1" stroke="#666" stroke-width="0.6"/>
<circle cx="308.2" cy="322.5" r="1.7" fill="#a0a0a0" stroke="#444" stroke-width="0.8"/>
<circle cx="327.09" cy="326.1" r="1.7" fill="#a0a0a0" stroke="#444" stroke-width="0.8"/>
<circle cx="352.27" cy="329.2" r="1.7" fill="#a0a0a0" stroke="#444" stroke-width="0.8"/>
<circle cx="396.33" cy="331.5" r="1.7" fill="#a0a0a0" stroke="#444" stroke-width="0.8"/>
<circle cx="421.51" cy="322.5" r="1.7" fill="#a0a0a0" stroke="#444" stroke-width="0.8"/>
<circle cx="440.4" cy="330.2" r="1.7" fill="#a0a0a0" stroke="#444" stroke-width="0.8"/>
<line x1="190.6" y1="30.4" x2="203" y2="30.4" stroke="#aaa" stroke-width="0.9" stroke-dasharray="2.4,2.4"/>
<circle cx="196.8" cy="30.4" r="1.7" fill="#ddd" stroke="#bbb" stroke-width="0.8"/>
<text x="206.2" y="32.3" font-size="5.3" fill="#222" text-anchor="start" font-weight="normal" stroke="#222" stroke-width="0.2">5 mg</text>
<line x1="190.6" y1="43.8" x2="203" y2="43.8" stroke="#555" stroke-width="0.8" stroke-dasharray="1.8,0.8,0.6,0.8"/>
<circle cx="196.8" cy="43.8" r="1.7" fill="#fff" stroke="#444" stroke-width="0.8"/>
<text x="206.2" y="45.7" font-size="5.3" fill="#222" text-anchor="start" font-weight="normal" stroke="#222" stroke-width="0.2">10 mg</text>
<line x1="190.6" y1="57" x2="203" y2="57" stroke="#333" stroke-width="1.1" stroke-dasharray="2.6,1.9"/>
<circle cx="196.8" cy="57" r="1.7" fill="#999" stroke="#444" stroke-width="0.8"/>
<text x="206.2" y="58.9" font-size="5.3" fill="#222" text-anchor="start" font-weight="normal" stroke="#222" stroke-width="0.2">20 mg</text>
<line x1="190.6" y1="70.4" x2="203" y2="70.4" stroke="#d0d0d0" stroke-width="1.35"/>
<circle cx="196.8" cy="70.4" r="1.7" fill="#fff" stroke="#aaa" stroke-width="0.8"/>
<text x="206.2" y="72.3" font-size="5.3" fill="#222" text-anchor="start" font-weight="normal" stroke="#222" stroke-width="0.2">100 mg</text>
<line x1="190.6" y1="83.8" x2="203" y2="83.8" stroke="#bbb" stroke-width="0.9" stroke-dasharray="0.7,0.9"/>
<circle cx="196.8" cy="83.8" r="1.7" fill="#fff" stroke="#444" stroke-width="0.8"/>
<text x="206.2" y="85.7" font-size="5.3" fill="#222" text-anchor="start" font-weight="normal" stroke="#222" stroke-width="0.2">300 mg</text>
<line x1="190.6" y1="97.1" x2="203" y2="97.1" stroke="#aaa" stroke-width="0.9" stroke-dasharray="2.4,2.4"/>
<circle cx="196.8" cy="97.1" r="1.7" fill="#ddd" stroke="#bbb" stroke-width="0.8"/>
<text x="206.2" y="99" font-size="5.3" fill="#222" text-anchor="start" font-weight="normal" stroke="#222" stroke-width="0.2">1,000 mg</text>
<line x1="190.6" y1="110.3" x2="203" y2="110.3" stroke="#3a3a3a" stroke-width="1.2"/>
<circle cx="196.8" cy="110.3" r="1.7" fill="#666" stroke="#222" stroke-width="0.8"/>
<text x="206.2" y="112.2" font-size="5.3" fill="#222" text-anchor="start" font-weight="normal" stroke="#222" stroke-width="0.2">1,500 mg</text>
<line x1="461.4" y1="30.5" x2="474.2" y2="30.5" stroke="#999" stroke-width="0.9" stroke-dasharray="0.7,0.9"/>
<circle cx="467.8" cy="30.5" r="1.7" fill="#fff" stroke="#aaa" stroke-width="0.8"/>
<text x="477" y="32.4" font-size="5.3" fill="#222" text-anchor="start" font-weight="normal" stroke="#222" stroke-width="0.2">OCE-1 (1,000 mg)</text>
<line x1="461.4" y1="41.5" x2="474.2" y2="41.5" stroke="#3a3a3a" stroke-width="1.2"/>
<circle cx="467.8" cy="41.5" r="1.7" fill="#a0a0a0" stroke="#444" stroke-width="0.8"/>
<text x="477" y="43.4" font-size="5.3" fill="#222" text-anchor="start" font-weight="normal" stroke="#222" stroke-width="0.2">OCE1 (1,500 mg)</text>
<line x1="188.3" y1="164.5" x2="202.5" y2="164.5" stroke="#d0d0d0" stroke-width="1.35"/>
<circle cx="195.4" cy="164.5" r="1.7" fill="#fff" stroke="#aaa" stroke-width="0.8"/>
<text x="206" y="166.4" font-size="5.3" fill="#222" text-anchor="start" font-weight="normal" stroke="#222" stroke-width="0.2">MB1A (100 mg)</text>
<line x1="188.3" y1="175.6" x2="202.5" y2="175.6" stroke="#9a9a9a" stroke-width="0.9" stroke-dasharray="2.2,1.6"/>
<circle cx="195.4" cy="175.6" r="1.7" fill="#fff" stroke="#aaa" stroke-width="0.8"/>
<text x="206" y="177.5" font-size="5.3" fill="#222" text-anchor="start" font-weight="normal" stroke="#222" stroke-width="0.2">MB2A (300 mg)</text>
<line x1="188.3" y1="187.2" x2="202.5" y2="187.2" stroke="#bbb" stroke-width="0.9" stroke-dasharray="0.7,0.9"/>
<circle cx="195.4" cy="187.2" r="1.7" fill="#fff" stroke="#aaa" stroke-width="0.8"/>
<text x="206" y="189.1" font-size="5.3" fill="#222" text-anchor="start" font-weight="normal" stroke="#222" stroke-width="0.2">MB3A (1,000 mg)</text>
<line x1="188.3" y1="198.5" x2="202.5" y2="198.5" stroke="#3a3a3a" stroke-width="1.2"/>
<circle cx="195.4" cy="198.5" r="1.7" fill="#666" stroke="#222" stroke-width="0.8"/>
<text x="206" y="200.4" font-size="5.3" fill="#222" text-anchor="start" font-weight="normal" stroke="#222" stroke-width="0.2">MB4A (1,500 mg)</text>
<line x1="457.4" y1="164.7" x2="470.2" y2="164.7" stroke="#d0d0d0" stroke-width="1.35"/>
<circle cx="463.8" cy="164.7" r="1.7" fill="#fff" stroke="#aaa" stroke-width="0.8"/>
<text x="474.2" y="166.6" font-size="5.3" fill="#222" text-anchor="start" font-weight="normal" stroke="#222" stroke-width="0.2">MB1B (60 mg)</text>
<line x1="457.4" y1="176.5" x2="470.2" y2="176.5" stroke="#999" stroke-width="0.9" stroke-dasharray="0.7,0.9"/>
<circle cx="463.8" cy="176.5" r="1.7" fill="#fff" stroke="#aaa" stroke-width="0.8"/>
<text x="474.2" y="178.4" font-size="5.3" fill="#222" text-anchor="start" font-weight="normal" stroke="#222" stroke-width="0.2">MB2B (200 mg)</text>
<line x1="457.4" y1="188.4" x2="470.2" y2="188.4" stroke="#aaa" stroke-width="0.9" stroke-dasharray="2.4,2.4"/>
<circle cx="463.8" cy="188.4" r="1.7" fill="#ddd" stroke="#bbb" stroke-width="0.8"/>
<text x="474.2" y="190.3" font-size="5.3" fill="#222" text-anchor="start" font-weight="normal" stroke="#222" stroke-width="0.2">MB3B (600 mg)</text>
<line x1="457.4" y1="200.1" x2="470.2" y2="200.1" stroke="#3a3a3a" stroke-width="1.2"/>
<circle cx="463.8" cy="200.1" r="1.7" fill="#666" stroke="#222" stroke-width="0.8"/>
<text x="474.2" y="202" font-size="5.3" fill="#222" text-anchor="start" font-weight="normal" stroke="#222" stroke-width="0.2">MB4B (1,000 mg)</text>
<line x1="190.8" y1="311.1" x2="202.8" y2="311.1" stroke="#d0d0d0" stroke-width="1.35"/>
<circle cx="196.8" cy="311.1" r="1.7" fill="#fff" stroke="#aaa" stroke-width="0.8"/>
<text x="206.2" y="313" font-size="5.3" fill="#222" text-anchor="start" font-weight="normal" stroke="#222" stroke-width="0.2">MCP1 (1,000 mg)</text>
<line x1="190.8" y1="322.3" x2="202.8" y2="322.3" stroke="#bbb" stroke-width="0.9" stroke-dasharray="0.7,0.9"/>
<circle cx="196.8" cy="322.3" r="1.7" fill="#fff" stroke="#444" stroke-width="0.8"/>
<text x="206.2" y="324.2" font-size="5.3" fill="#222" text-anchor="start" font-weight="normal" stroke="#222" stroke-width="0.2">MCP2 (1,500 mg)</text>
<line x1="190.8" y1="333.5" x2="202.8" y2="333.5" stroke="#aaa" stroke-width="0.9" stroke-dasharray="2.4,2.4"/>
<circle cx="196.8" cy="333.5" r="1.7" fill="#ddd" stroke="#bbb" stroke-width="0.8"/>
<text x="206.2" y="335.4" font-size="5.3" fill="#222" text-anchor="start" font-weight="normal" stroke="#222" stroke-width="0.2">MP1 (600 mg)</text>
<line x1="190.8" y1="345.4" x2="202.8" y2="345.4" stroke="#3a3a3a" stroke-width="1.2"/>
<circle cx="196.8" cy="345.4" r="1.7" fill="#666" stroke="#222" stroke-width="0.8"/>
<text x="206.2" y="347.3" font-size="5.3" fill="#222" text-anchor="start" font-weight="normal" stroke="#222" stroke-width="0.2">MP2 (1,000 mg)</text>
<line x1="463.5" y1="323.5" x2="473" y2="323.5" stroke="#505050" stroke-width="0.9"/>
<circle cx="468.25" cy="323.5" r="1.7" fill="#fff" stroke="#444" stroke-width="0.8"/>
<text x="475.6" y="325.4" font-size="5.3" fill="#222" text-anchor="start" font-weight="normal" stroke="#222" stroke-width="0.2">TT2A (1,000 mg)</text>
</svg></body></html>
